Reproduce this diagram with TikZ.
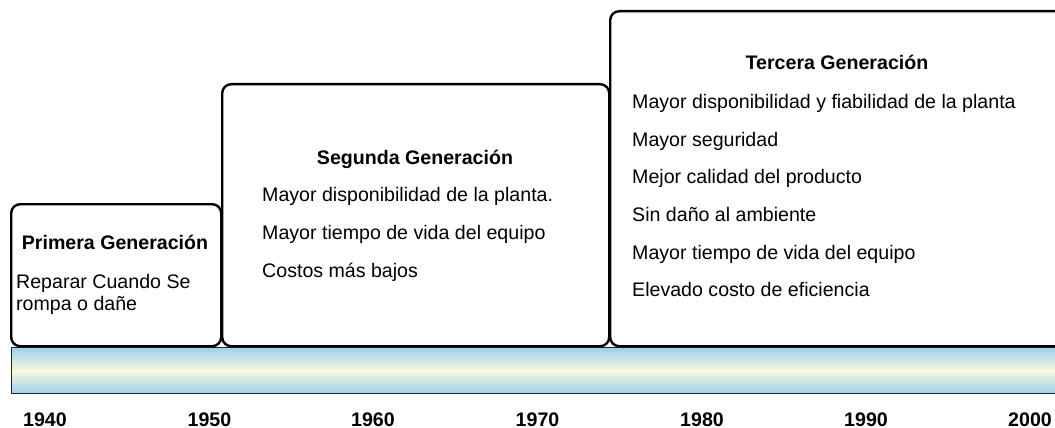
\documentclass[tikz,border=0pt]{standalone}
\usepackage{fontspec}
\setmainfont{Liberation Sans}
\definecolor{barblue}{HTML}{9DCFEE}
\definecolor{barcream}{HTML}{FAF8DC}
\tikzset{
  genbox/.style={draw=black, line width=2.4pt, rounded corners=9pt, fill=white, inner sep=0pt, anchor=north west},
  gentitle/.style={font=\fontsize{19.6}{22}\selectfont\bfseries, inner sep=0pt, anchor=base},
  genitem/.style={font=\fontsize{19.6}{22}\selectfont, inner sep=0pt, anchor=base west, align=left},
  yearlbl/.style={font=\fontsize{19.6}{22}\selectfont\bfseries, inner sep=0pt, anchor=base},
  bar/.style={draw=black!85, line width=1.2pt, top color=barblue, bottom color=barblue, middle color=barcream, inner sep=0pt, anchor=north west}
}
\begin{document}
\begin{tikzpicture}[x=1pt,y=-1pt]
\useasboundingbox (0,0) rectangle (1055,428);
% timeline bar
\node[bar, minimum width=1060pt, minimum height=46pt] (timebar) at (11,347) {};
% generation boxes
\node[genbox, minimum width=210pt, minimum height=142pt] (g1) at (10,203) {};
\node[genbox, minimum width=387pt, minimum height=262pt] (g2) at (221,83) {};
\node[genbox, minimum width=470pt, minimum height=335pt] (g3) at (609,10) {};
% box 1
\node[gentitle] (t1) at (115,249) {Primera Generación};
\node[genitem] (a1) at (16,288) {Reparar Cuando Se};
\node[genitem] (a2) at (16,310) {rompa o dañe};
% box 2
\node[gentitle] (t2) at (415,164) {Segunda Generación};
\node[genitem] (b1) at (262,201) {Mayor disponibilidad de la planta.};
\node[genitem] (b2) at (262,239) {Mayor tiempo de vida del equipo};
\node[genitem] (b3) at (262,277) {Costos más bajos};
% box 3
\node[gentitle] (t3) at (837,70) {Tercera Generación};
\node[genitem] (c1) at (632,108) {Mayor disponibilidad y fiabilidad de la planta};
\node[genitem] (c2) at (632,146) {Mayor seguridad};
\node[genitem] (c3) at (632,183.5) {Mejor calidad del producto};
\node[genitem] (c4) at (632,221) {Sin daño al ambiente};
\node[genitem] (c5) at (632,259) {Mayor tiempo de vida del equipo};
\node[genitem] (c6) at (632,296.5) {Elevado costo de eficiencia};
% years
\node[yearlbl] (y1940) at (45,426) {1940};
\node[yearlbl] (y1950) at (209.5,426) {1950};
\node[yearlbl] (y1960) at (373,426) {1960};
\node[yearlbl] (y1970) at (537.5,426) {1970};
\node[yearlbl] (y1980) at (702,426) {1980};
\node[yearlbl] (y1990) at (866,426) {1990};
\node[yearlbl] (y2000) at (1030,426) {2000};
\end{tikzpicture}
\end{document}
